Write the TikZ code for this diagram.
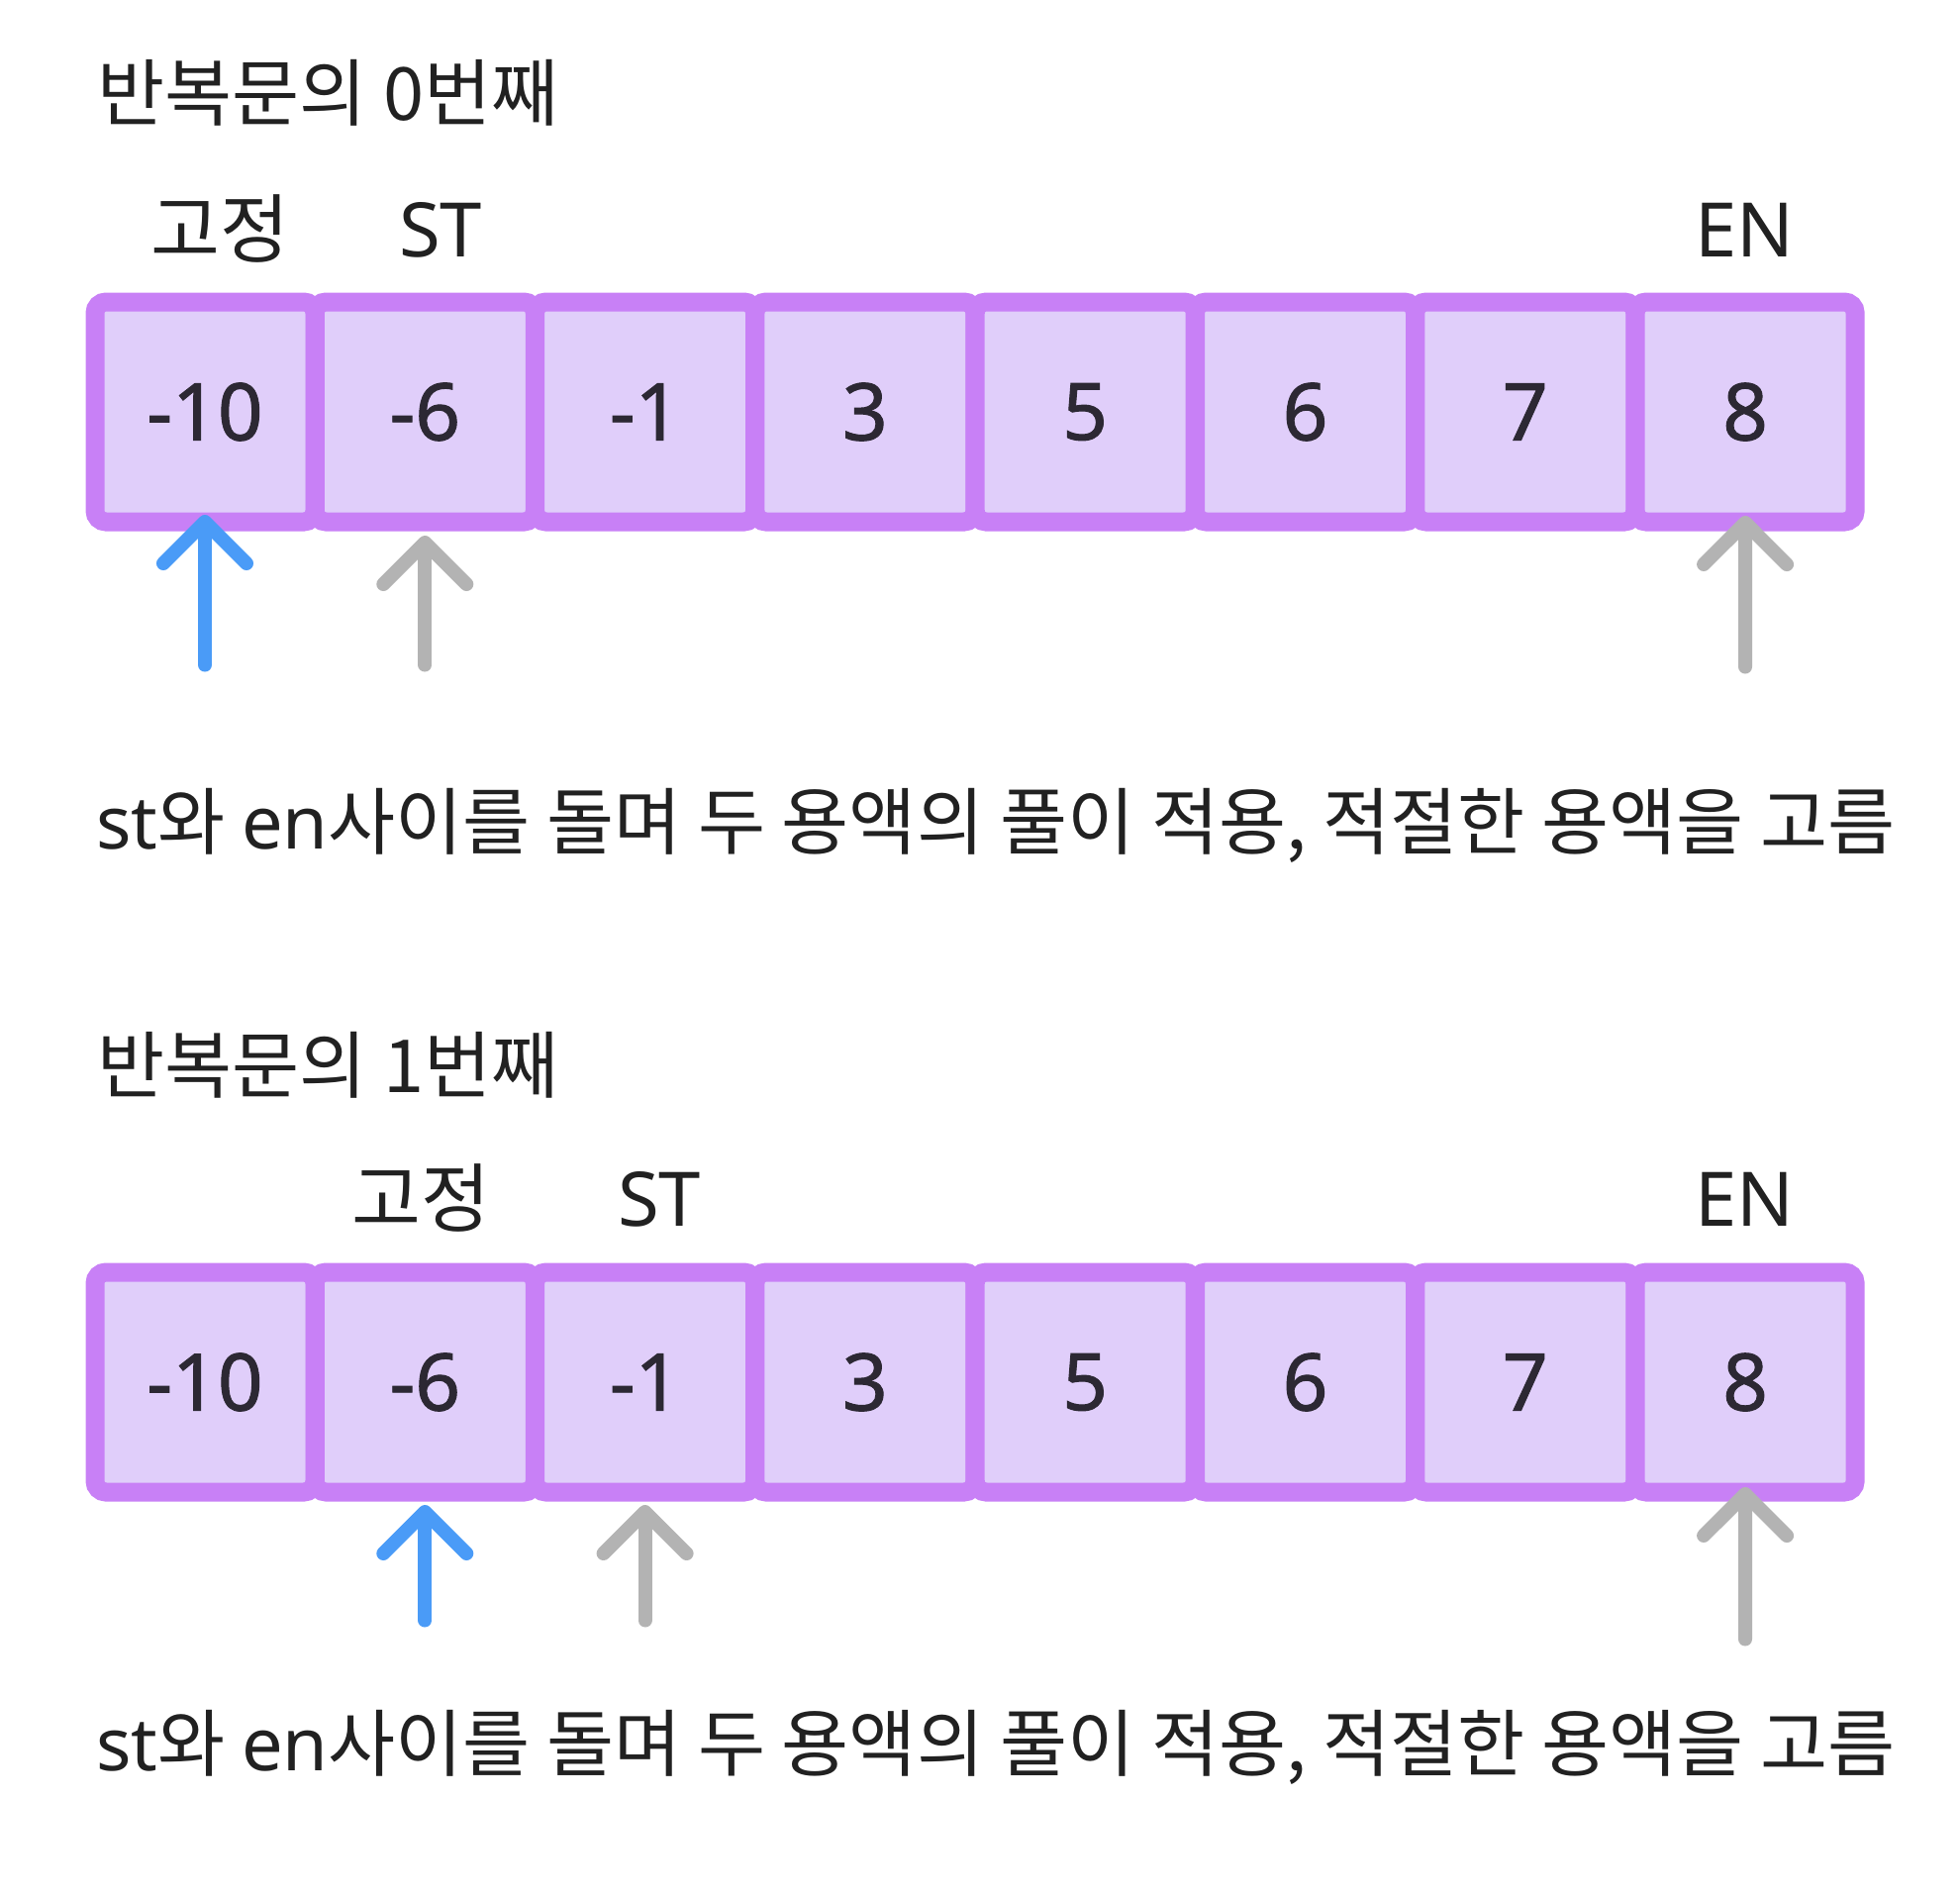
\documentclass[tikz,border=0pt]{standalone}
\usepackage{fontspec}
\setmainfont{Noto Sans CJK KR}
\newfontfamily\latinfont{Noto Sans}
\newfontfamily\numfont{Noto Sans}[FakeBold=1.2]
\usepackage{tikz}
\usetikzlibrary{arrows.meta}
\definecolor{cellline}{HTML}{C880F6}
\definecolor{cellfill}{HTML}{E0CEFA}
\definecolor{fixblue}{HTML}{4A9BF7}
\definecolor{ptrgray}{HTML}{B3B3B3}
\definecolor{inktext}{HTML}{212121}
\definecolor{numtext}{HTML}{2C2833}

\begin{document}
\begin{tikzpicture}[x=0.5pt,y=-0.5pt,
        cellbox/.style={draw=cellline,fill=cellfill,line width=9.5pt,rounded corners=5.5pt,
            minimum size=111pt,inner sep=0pt,outer sep=0pt,text=numtext,font=\numfont\fontsize{40}{42}\selectfont},
        title/.style={anchor=base west,inner sep=0pt,text=inktext,font=\fontsize{37}{40}\selectfont},
        ptrlabel/.style={anchor=base,inner sep=0pt,text=inktext,font=\fontsize{38}{40}\selectfont},
        note/.style={anchor=base west,inner sep=0pt,text=inktext,font=\fontsize{37}{40}\selectfont},
        ptr/.style={line width=7pt,line cap=round,-{Straight Barb[length=21pt,width=42pt,round]}},
        fixptr/.style={ptr,draw=fixblue},
        moveptr/.style={ptr,draw=ptrgray}]
    \useasboundingbox (0,0) rectangle (1980,1916);

    % loop 0
    \node[title] (head0) at (98,122) {반복문의 0번째};
    \node[ptrlabel] (fix0) at (222,259) {고정};
    \node[ptrlabel] (st0) at (445,259) {\latinfont ST};
    \node[ptrlabel] (en0) at (1762,259) {\latinfont EN};
    \foreach \v [count=\i] in {-10,-6,-1,3,5,6,7,8}
        \node[cellbox] (a\i) at ({207+(\i-1)*222.3},416) {\v};
    \coordinate (fixtail0) at (207,671.5);
    \coordinate (sttail0) at (429.3,671.5);
    \coordinate (entail0) at (1763,673.5);
    \draw[fixptr] (fixtail0) -- ([yshift=3.5pt]a1.south);
    \draw[moveptr] (sttail0) -- ([yshift=-7pt]a2.south);
    \draw[moveptr] (entail0) -- ([yshift=3pt]a8.south);
    \node[note] (desc0) at (97,857) {{\latinfont st}와 {\latinfont en}사이를 돌며 두 용액의 풀이 적용, 적절한 용액을 고름};

    % loop 1
    \node[title] (head1) at (98,1103) {반복문의 1번째};
    \node[ptrlabel] (fix1) at (425,1238) {고정};
    \node[ptrlabel] (st1) at (666,1238) {\latinfont ST};
    \node[ptrlabel] (en1) at (1762,1238) {\latinfont EN};
    \foreach \v [count=\i] in {-10,-6,-1,3,5,6,7,8}
        \node[cellbox] (b\i) at ({207+(\i-1)*222.3},1396) {\v};
    \coordinate (fixtail1) at (429.3,1636.5);
    \coordinate (sttail1) at (651.6,1636.5);
    \coordinate (entail1) at (1763,1655.5);
    \draw[fixptr] (fixtail1) -- ([yshift=-6.5pt]b2.south);
    \draw[moveptr] (sttail1) -- ([yshift=-6.5pt]b3.south);
    \draw[moveptr] (entail1) -- ([yshift=2.5pt]b8.south);
    \node[note] (desc1) at (97,1788) {{\latinfont st}와 {\latinfont en}사이를 돌며 두 용액의 풀이 적용, 적절한 용액을 고름};
\end{tikzpicture}
\end{document}
